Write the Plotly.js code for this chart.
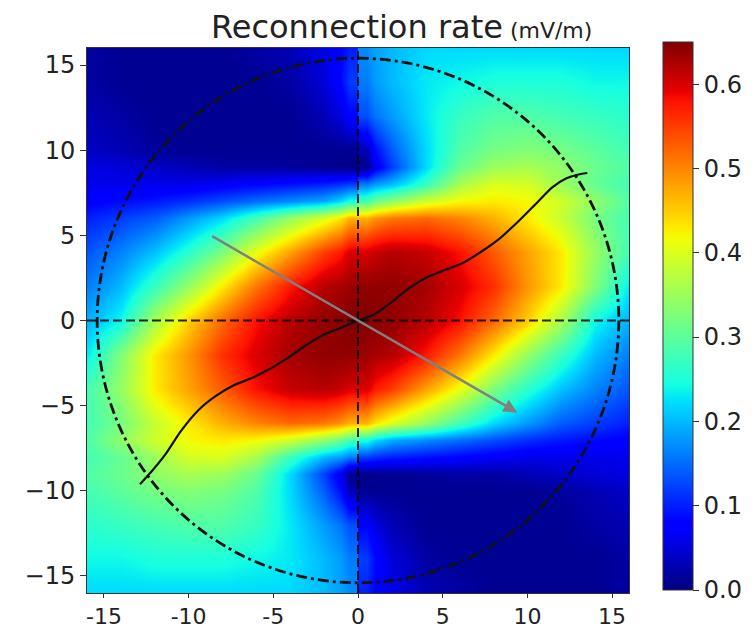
<!DOCTYPE html>
<html>
<head>
<meta charset="utf-8">
<script src="https://cdn.plot.ly/plotly-3.0.1.min.js"></script>
<style>
  html, body { margin: 0; padding: 0; background: #ffffff; }
  #chart { width: 755px; height: 628px; }
</style>
</head>
<body>
<div id="chart"></div>
<script>
// ---------------- DATA ----------------
// Grid rows (y, top to bottom)
const yNodes = [16, 14, 12, 10, 9, 8, 7, 6, 4, 2, 0, -2, -4, -6, -7, -8, -9, -10, -12, -14, -16];
// Cell edges for the two halves (the field jumps across x = 0)
const xEdgesLeft  = [-17, -15, -13, -11, -9, -7, -5, -3, -1, 0];
const xEdgesRight = [0, 1, 3, 5, 7, 9, 11, 13, 15, 17];

// Reconnection rate (mV/m), left half: x = -16,-14,...,-2, just left of 0
const rateLeft = [
  [0.02, 0.01, 0.01, 0.01, 0.01, 0.02, 0.03, 0.06, 0.10],
  [0.02, 0.01, 0.01, 0.01, 0.01, 0.01, 0.02, 0.05, 0.12],
  [0.03, 0.02, 0.01, 0.01, 0.01, 0.01, 0.01, 0.03, 0.08],
  [0.04, 0.03, 0.015, 0.01, 0.01, 0.01, 0.01, 0.01, 0.01],
  [0.055, 0.05, 0.04, 0.03, 0.02, 0.02, 0.015, 0.01, 0.005],
  [0.06, 0.06, 0.06, 0.06, 0.07, 0.08, 0.09, 0.10, 0.12],
  [0.075, 0.085, 0.095, 0.11, 0.13, 0.15, 0.17, 0.19, 0.25],
  [0.10, 0.12, 0.14, 0.18, 0.22, 0.28, 0.345, 0.40, 0.47],
  [0.135, 0.165, 0.205, 0.26, 0.325, 0.41, 0.48, 0.55, 0.60],
  [0.16, 0.20, 0.27, 0.345, 0.43, 0.51, 0.575, 0.62, 0.635],
  [0.195, 0.24, 0.36, 0.45, 0.52, 0.58, 0.62, 0.64, 0.65],
  [0.23, 0.33, 0.43, 0.49, 0.56, 0.60, 0.63, 0.64, 0.64],
  [0.28, 0.345, 0.43, 0.48, 0.53, 0.58, 0.61, 0.62, 0.60],
  [0.28, 0.32, 0.385, 0.43, 0.47, 0.50, 0.52, 0.51, 0.47],
  [0.29, 0.34, 0.39, 0.42, 0.43, 0.42, 0.39, 0.34, 0.28],
  [0.28, 0.305, 0.35, 0.395, 0.40, 0.36, 0.27, 0.20, 0.16],
  [0.29, 0.31, 0.34, 0.36, 0.35, 0.31, 0.22, 0.12, 0.005],
  [0.28, 0.30, 0.32, 0.33, 0.32, 0.29, 0.22, 0.14, 0.03],
  [0.26, 0.27, 0.28, 0.29, 0.29, 0.27, 0.23, 0.18, 0.13],
  [0.24, 0.24, 0.25, 0.25, 0.25, 0.24, 0.23, 0.20, 0.16],
  [0.22, 0.22, 0.22, 0.22, 0.22, 0.22, 0.22, 0.20, 0.17]
];
// Right half: just right of 0, x = 2,4,...,16
const rateRight = [
  [0.17, 0.20, 0.22, 0.22, 0.22, 0.22, 0.22, 0.22, 0.22],
  [0.16, 0.20, 0.23, 0.24, 0.25, 0.25, 0.25, 0.24, 0.24],
  [0.13, 0.18, 0.23, 0.27, 0.29, 0.29, 0.28, 0.27, 0.26],
  [0.03, 0.14, 0.22, 0.29, 0.32, 0.33, 0.32, 0.30, 0.28],
  [0.005, 0.12, 0.22, 0.31, 0.35, 0.36, 0.34, 0.31, 0.29],
  [0.16, 0.20, 0.27, 0.36, 0.40, 0.395, 0.35, 0.305, 0.28],
  [0.28, 0.34, 0.39, 0.42, 0.43, 0.42, 0.39, 0.34, 0.29],
  [0.47, 0.51, 0.52, 0.50, 0.47, 0.43, 0.385, 0.32, 0.28],
  [0.60, 0.62, 0.61, 0.58, 0.53, 0.48, 0.43, 0.345, 0.28],
  [0.64, 0.64, 0.63, 0.60, 0.56, 0.49, 0.43, 0.33, 0.23],
  [0.65, 0.64, 0.62, 0.58, 0.52, 0.45, 0.36, 0.24, 0.195],
  [0.635, 0.62, 0.575, 0.51, 0.43, 0.345, 0.27, 0.20, 0.16],
  [0.60, 0.55, 0.48, 0.41, 0.325, 0.26, 0.205, 0.165, 0.135],
  [0.47, 0.40, 0.345, 0.28, 0.22, 0.18, 0.14, 0.12, 0.10],
  [0.25, 0.19, 0.17, 0.15, 0.13, 0.11, 0.095, 0.085, 0.075],
  [0.12, 0.10, 0.09, 0.08, 0.07, 0.06, 0.06, 0.06, 0.06],
  [0.005, 0.01, 0.015, 0.02, 0.02, 0.03, 0.04, 0.05, 0.055],
  [0.01, 0.01, 0.01, 0.01, 0.01, 0.01, 0.015, 0.03, 0.04],
  [0.08, 0.03, 0.01, 0.01, 0.01, 0.01, 0.01, 0.02, 0.03],
  [0.12, 0.05, 0.02, 0.01, 0.01, 0.01, 0.01, 0.01, 0.02],
  [0.10, 0.06, 0.03, 0.02, 0.01, 0.01, 0.01, 0.01, 0.02]
];

// Black curve
const curveX = [-12.87, -12.19, -11.34, -10.50, -9.44, -8.39, -7.33, -6.27, -5.22, -4.16, -3.11, -2.05, -0.99, 0.00,
                0.91, 1.97, 3.02, 4.08, 5.13, 6.19, 7.25, 8.30, 9.35, 10.41, 11.47, 12.31, 12.95, 13.54];
const curveY = [-9.61, -8.87, -7.82, -6.55, -5.28, -4.43, -3.80, -3.38, -2.85, -2.21, -1.48, -0.85, -0.42, 0.00,
                0.32, 1.06, 1.90, 2.54, 2.96, 3.38, 4.02, 4.76, 5.71, 6.76, 7.82, 8.35, 8.56, 8.66];

// Gray arrow (tail -> head)
const arrowTail = [-8.7, 5.0];
const arrowHead = [9.4, -5.4];

// Dash-dot circle radius
const circleRadius = 15.4;

// Tick labels
const xTickVals = [-15, -10, -5, 0, 5, 10, 15];
const xTickText = ['-15', '-10', '-5', '0', '5', '10', '15'];
const yTickVals = [-15, -10, -5, 0, 5, 10, 15];
const yTickText = ['\u221215', '\u221210', '\u22125', '0', '5', '10', '15'];
const cbTickVals = [0, 0.1, 0.2, 0.3, 0.4, 0.5, 0.6];
const cbTickText = ['0.0', '0.1', '0.2', '0.3', '0.4', '0.5', '0.6'];

// ---------------- STYLE ----------------
const jet = [
  [0.00, 'rgb(0,0,128)'],
  [0.11, 'rgb(0,0,255)'],
  [0.125, 'rgb(0,0,255)'],
  [0.34, 'rgb(0,219,255)'],
  [0.35, 'rgb(0,230,247)'],
  [0.375, 'rgb(21,255,226)'],
  [0.64, 'rgb(239,255,8)'],
  [0.65, 'rgb(247,245,0)'],
  [0.66, 'rgb(255,236,0)'],
  [0.89, 'rgb(255,19,0)'],
  [0.91, 'rgb(232,0,0)'],
  [1.00, 'rgb(128,0,0)']
];
const FONT = 'DejaVu Sans, Verdana, sans-serif';
const ZMIN = 0, ZMAX = 0.65;

const traces = [
  {
    type: 'heatmap', x: xEdgesLeft, y: yNodes, z: rateLeft,
    zmin: ZMIN, zmax: ZMAX, colorscale: jet, zsmooth: 'best', showscale: false,
    hoverinfo: 'skip'
  },
  {
    type: 'heatmap', x: xEdgesRight, y: yNodes, z: rateRight,
    zmin: ZMIN, zmax: ZMAX, colorscale: jet, zsmooth: 'best', showscale: true,
    hoverinfo: 'skip',
    colorbar: {
      thickness: 30, thicknessmode: 'pixels',
      len: 548, lenmode: 'pixels',
      x: 1.0623, xanchor: 'left', xpad: 0,
      y: 1.011, yanchor: 'top', ypad: 0,
      outlinewidth: 1, outlinecolor: '#333',
      ticks: 'outside', ticklen: 6, tickwidth: 1, tickcolor: '#333',
      tickvals: cbTickVals, ticktext: cbTickText,
      tickfont: { family: FONT, size: 24, color: '#222' }
    }
  },
  {
    type: 'scatter', mode: 'lines', x: curveX, y: curveY,
    line: { color: '#111', width: 2.2, shape: 'spline', smoothing: 0.6 },
    hoverinfo: 'skip', showlegend: false
  }
];

const layout = {
  width: 755, height: 628,
  margin: { l: 87, r: 122, t: 48, b: 35, pad: 0 },
  paper_bgcolor: '#ffffff', plot_bgcolor: '#ffffff',
  showlegend: false,
  title: {
    text: 'Reconnection rate<span style="font-size:22px"> (mV/m)</span>',
    font: { family: FONT, size: 32, color: '#222' },
    x: 0.532, xanchor: 'center', xref: 'container',
    y: 0.94, yanchor: 'bottom', yref: 'container'
  },
  xaxis: {
    range: [-16, 16], autorange: false,
    tickvals: xTickVals, ticktext: xTickText,
    ticks: 'outside', ticklen: 4, tickwidth: 1, tickcolor: '#333',
    showline: true, mirror: true, linecolor: '#333', linewidth: 1,
    showgrid: false, zeroline: false,
    tickfont: { family: FONT, size: 22, color: '#222' }
  },
  yaxis: {
    range: [-16, 16], autorange: false,
    tickvals: yTickVals, ticktext: yTickText,
    ticks: 'outside', ticklen: 6, tickwidth: 1, tickcolor: '#333',
    showline: true, mirror: true, linecolor: '#333', linewidth: 1,
    showgrid: false, zeroline: false,
    tickfont: { family: FONT, size: 24, color: '#222' }
  },
  shapes: [
    { type: 'line', xref: 'x', yref: 'paper', x0: 0, x1: 0, y0: 0, y1: 1, layer: 'above',
      line: { color: 'rgba(0,0,0,0.85)', width: 2, dash: '9px,4px' } },
    { type: 'line', xref: 'paper', yref: 'y', x0: 0, x1: 1, y0: 0, y1: 0, layer: 'above',
      line: { color: 'rgba(0,0,0,0.85)', width: 2, dash: '9px,4px' } },
    { type: 'circle', xref: 'x', yref: 'y', layer: 'above',
      x0: -circleRadius, x1: circleRadius, y0: -circleRadius, y1: circleRadius,
      line: { color: '#111', width: 2.8, dash: '11px,4px,3px,4px' } }
  ],
  annotations: [
    { x: arrowHead[0], y: arrowHead[1], xref: 'x', yref: 'y',
      ax: arrowTail[0], ay: arrowTail[1], axref: 'x', ayref: 'y',
      text: '', showarrow: true, arrowhead: 2, arrowsize: 1.1, arrowwidth: 2.5,
      arrowcolor: 'rgb(128,128,128)', standoff: 0 }
  ]
};

Plotly.newPlot('chart', traces, layout, { staticPlot: true, displayModeBar: false });
</script>
</body>
</html>
